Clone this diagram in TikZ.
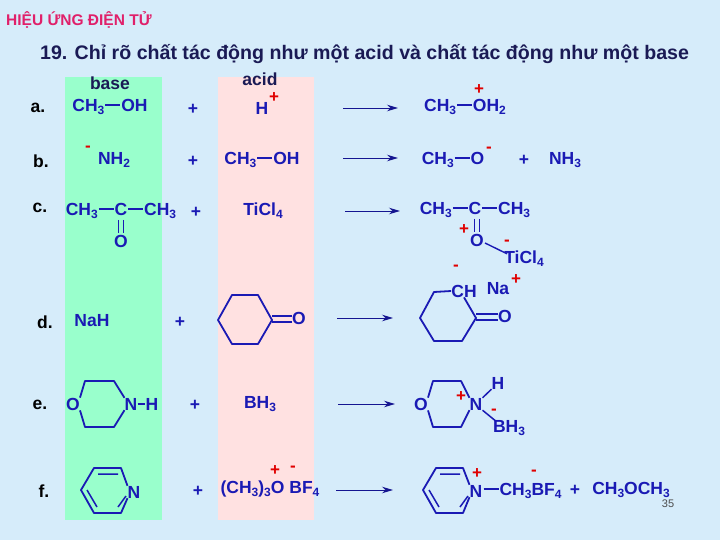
\documentclass[tikz,border=0pt]{standalone}
\usepackage{fontspec}
\setmainfont{Liberation Sans}
\usetikzlibrary{arrows.meta,calc}
\definecolor{bg}{HTML}{D6ECFA}
\definecolor{grn}{HTML}{99FFCC}
\definecolor{pnk}{HTML}{FFE1E1}
\definecolor{chb}{HTML}{1A1AB4}
\definecolor{navy}{HTML}{1A1A55}
\definecolor{ttl}{HTML}{E0206A}
\definecolor{chg}{HTML}{E00000}
\newcommand{\cs}[1]{\raisebox{-0.35ex}{\fontsize{12}{12}\selectfont #1}}
\newcommand{\bnd}{\hspace{1pt}\rule[0.33em]{0.85em}{1.5pt}\hspace{1pt}}
\tikzset{
 chem/.style={text=chb,font=\fontsize{17.5}{19}\selectfont\bfseries,inner sep=0pt},
 lbl/.style={text=navy,font=\fontsize{17.5}{19}\selectfont\bfseries,inner sep=0pt},
 chg/.style={text=chg,font=\fontsize{17}{17}\selectfont\bfseries,inner sep=0pt},
 bond/.style={draw=chb,line width=1.8pt,line join=round},
 rxn/.style={draw=chb!80!black,line width=0.9pt,-{Stealth[length=11pt,width=6.5pt]}},
}
\begin{document}
\begin{tikzpicture}[x=1pt,y=-1pt]
\fill[bg] (0,0) rectangle (720,540);
\useasboundingbox (0,0) rectangle (720,540);
\fill[grn] (65,77) rectangle (162,520);
\fill[pnk] (218,77) rectangle (314,520);
\node[anchor=west,text=ttl,font=\fontsize{15.5}{16}\selectfont\bfseries,inner sep=0pt] (title) at (6,20) {HIỆU ỨNG ĐIỆN TỬ};
\node[anchor=west,text=navy,font=\fontsize{19.6}{20}\selectfont\bfseries,inner sep=0pt] (head) at (40,54) {19. Chỉ rõ chất tác động như một acid và chất tác động như một base};
\node[lbl] (base) at (110,83) {base};
\node[lbl] (acid) at (260,79) {acid};
% row labels
\node[lbl,text=black] (la) at (38,108) {a.};
\node[lbl,text=black] (lb) at (41,161) {b.};
\node[lbl,text=black] (lc) at (40,208) {c.};
\node[lbl,text=black] (ld) at (45,322) {d.};
\node[lbl,text=black] (le) at (40,405) {e.};
\node[lbl,text=black] (lf) at (44,491) {f.};
% a
\node[chem] (a1) at (110,107) {CH\cs{3}\bnd OH};
\node[chem] (ap) at (193,109) {+};
\node[chem] (a2) at (262,108) {H}; \node[chg] (a2c) at (274,98) {+};
\coordinate (a3s) at (343,108); \coordinate (a3e) at (398,108);
\draw[rxn] (a3s) -- (a3e);
\node[chem] (a4) at (465,107) {CH\cs{3}\bnd OH\cs{2}}; \node[chg] (a4c) at (479,90) {+};
% b
\node[chem] (b1) at (114,160) {NH\cs{2}}; \node[chg] (b1c) at (88,149) {-};
\node[chem] (bp) at (193,161) {+};
\node[chem] (b2) at (262,160) {CH\cs{3}\bnd OH};
\coordinate (b3s) at (343,158); \coordinate (b3e) at (398,158);
\draw[rxn] (b3s) -- (b3e);
\node[chem] (b4) at (453,160) {CH\cs{3}\bnd O}; \node[chg] (b4c) at (489,150) {-};
\node[chem] (bp2) at (524,160) {+};
\node[chem] (b5) at (565,160) {NH\cs{3}};
% c
\node[chem] (c1) at (121,211) {CH\cs{3}\bnd C\bnd CH\cs{3}};
\node[chem] (c1o) at (121,241) {O};
\draw[bond,line width=1.4pt] (118.5,220) -- (118.5,233) (123.5,220) -- (123.5,233);
\node[chem] (cp) at (196,212) {+};
\node[chem] (c2) at (263,211) {TiCl\cs{4}};
\coordinate (c3s) at (345,211); \coordinate (c3e) at (400,211);
\draw[rxn] (c3s) -- (c3e);
\node[chem] (c4) at (475,210) {CH\cs{3}\bnd C\bnd CH\cs{3}};
\node[chem] (c4o) at (477,240) {O}; \node[chg] (c4c) at (464,230) {+};
\draw[bond,line width=1.4pt] (474.5,219) -- (474.5,232) (479.5,219) -- (479.5,232);
\node[chem] (c5) at (524,259) {TiCl\cs{4}}; \node[chg] (c5c) at (507,243) {-};
\draw[bond,line width=1.4pt] ($(c4o.east)+(1,3)$) -- ($(c5.north west)+(3,3)$);
% d
\node[chem] (d1) at (92,321) {NaH};
\node[chem] (dp) at (180,322) {+};
\draw[bond] (272,320) -- (258,295) -- (232,295) -- (218,320) -- (232,344) -- (258,344) -- cycle;
\node[chem] (d2o) at (299,318) {O};
\draw[bond,line width=1.5pt] (272,316) -- (d2o.west|-0,316) (272,322) -- (d2o.west|-0,322);
\coordinate (d3s) at (337,318); \coordinate (d3e) at (393,318);
\draw[rxn] (d3s) -- (d3e);
\node[chem] (d4ch) at (464,291) {CH}; \node[chg] (d4c) at (456,268) {-};
\node[chem] (d4na) at (498,289) {Na}; \node[chg] (d4nac) at (516,280) {+};
\draw[bond] (d4ch.west) -- (434,292) -- (420,318) -- (434,341) -- (462,341) -- (476,318) -- (d4ch.south);
\node[chem] (d4o) at (505,316) {O};
\draw[bond,line width=1.5pt] (476,314) -- (d4o.west|-0,314) (476,320) -- (d4o.west|-0,320);
% e
\node[chem] (e1o) at (73,404) {O};
\node[chem] (e1n) at (131,404) {N};
\node[chem] (e1h) at (152,404) {H};
\draw[bond] (e1n.east) -- (e1h.west);
\draw[bond] (e1o.north east) -- (85,381) -- (114,381) -- (e1n.north west);
\draw[bond] (e1o.south east) -- (85,427) -- (114,427) -- (e1n.south west);
\node[chem] (ep) at (195,405) {+};
\node[chem] (e2) at (260,404) {BH\cs{3}};
\coordinate (e3s) at (338,404); \coordinate (e3e) at (395,404);
\draw[rxn] (e3s) -- (e3e);
\node[chem] (e4o) at (421,404) {O};
\node[chem] (e4n) at (476,404) {N}; \node[chg] (e4nc) at (461,397) {+};
\draw[bond] (e4o.north east) -- (433,381) -- (461,381) -- (e4n.north west);
\draw[bond] (e4o.south east) -- (433,427) -- (461,427) -- (e4n.south west);
\node[chem] (e4h) at (498,383) {H};
\node[chem] (e4b) at (509,428) {BH\cs{3}}; \node[chg] (e4bc) at (494,412) {-};
\draw[bond,line width=1.5pt] (e4n.north east) -- (e4h.south west);
\draw[bond,line width=1.5pt] (e4n.south east) -- ($(e4b.north west)+(3,1)$);
% f
\node[chem] (f1n) at (134,492) {N};
\draw[bond] (f1n.north west) -- (121,468) -- (94,468) -- (81,490) -- (94,513) -- (121,513) -- (f1n.south west);
\draw[bond,line width=1.5pt] (98,474) -- (118,474) (87,490) -- (97,507) (118,507) -- (126,496);
\node[chem] (fp) at (198,491) {+};
\node[chem] (f2) at (270,489) {(CH\cs{3})\cs{3}O BF\cs{4}};
\node[chg] (f2c1) at (275,471) {+}; \node[chg] (f2c2) at (293,469) {-};
\coordinate (f3s) at (336,490); \coordinate (f3e) at (393,490);
\draw[rxn] (f3s) -- (f3e);
\node[chem] (f4n) at (476,491) {N}; \node[chg] (f4nc) at (477,474) {+};
\draw[bond] (f4n.north west) -- (463,468) -- (436,468) -- (423,490) -- (436,513) -- (463,513) -- (f4n.south west);
\draw[bond,line width=1.5pt] (440,474) -- (460,474) (429,490) -- (439,507) (460,507) -- (468,496);
\node[chem,anchor=west] (f5) at (f4n.east) {\bnd CH\cs{3}BF\cs{4}};
\node[chg] (f5c) at (534,473) {-};
\node[chem] (fp2) at (575,490) {+};
\node[chem] (f6) at (631,490) {CH\cs{3}OCH\cs{3}};
\node[text=black!70,font=\fontsize{11}{11}\selectfont,inner sep=0pt] (pg) at (668,504) {35};
\end{tikzpicture}
\end{document}
